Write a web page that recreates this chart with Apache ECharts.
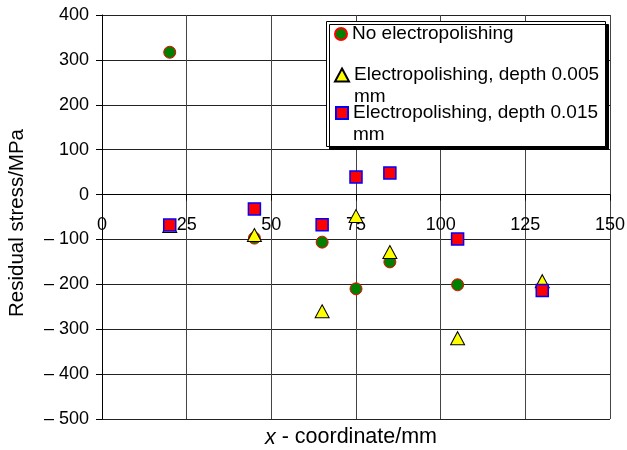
<!DOCTYPE html>
<html>
<head>
<meta charset="utf-8">
<script src="https://cdn.jsdelivr.net/npm/echarts@6/dist/echarts.min.js"></script>
<style>
  html, body { margin: 0; padding: 0; background: #fff; }
  #chart { width: 627px; height: 450px; }
</style>
</head>
<body>
<div id="chart"></div>
<script>
// Measurement positions along the specimen (mm)
const xCoords = [20, 45, 65, 75, 85, 105, 130];
// Residual stress (MPa) for each surface condition
const noPolish = [317, -97, -106, -210, -150, -201, -212];
const polish005 = [-70, -90, -260, -48, -128, -320, -193];
const polish015 = [-68, -32, -67, 39, 48, -99, -214];

const seriesNames = [
  'No electropolishing',
  'Electropolishing, depth 0.005 mm',
  'Electropolishing, depth 0.015 mm'
];

const FONT = '"Liberation Sans", Arial, sans-serif';

// Plot geometry and stress range, used to place the x axis on the zero line
const GRID_TOP = 15, GRID_BOTTOM = 31, CHART_H = 450;
const Y_MIN = -500, Y_MAX = 400;
const plotH = CHART_H - GRID_TOP - GRID_BOTTOM;
const zeroOffset = -plotH * (0 - Y_MIN) / (Y_MAX - Y_MIN);

function pairs(ys) {
  return xCoords.map((x, i) => [x, ys[i]]);
}

const chart = echarts.init(document.getElementById('chart'), null, { renderer: 'canvas' });

const legendText = {
  color: '#000',
  fontFamily: FONT,
  fontSize: 19,
  lineHeight: 22
};
// Wrapped entries get an empty leading line so the icon sits beside the first text line
const legendWrap = name => (name.indexOf(' mm') > -1 ? '\n' + name.replace(' mm', '\nmm') : name);

chart.setOption({
  animation: false,
  backgroundColor: '#fff',
  grid: { left: 102, right: 17, top: GRID_TOP, bottom: GRID_BOTTOM, containLabel: false, outerBoundsMode: 'none' },
  xAxis: {
    type: 'value',
    min: 0, max: 150, interval: 25,
    position: 'bottom',
    offset: zeroOffset,
    axisLine: { onZero: false, lineStyle: { color: '#000', width: 1 } },
    axisTick: { show: true, length: 6, lineStyle: { color: '#000' } },
    axisLabel: { color: '#000', fontFamily: FONT, fontSize: 18, margin: 21, showMinLabel: true, showMaxLabel: true },
    splitLine: { show: true, lineStyle: { color: '#444', width: 1 } },
    name: '{i|x} - coordinate/mm',
    nameLocation: 'middle',
    nameGap: 232,
    nameTextStyle: {
      color: '#000', fontFamily: FONT, fontSize: 21.5, padding: [0, 10, 0, 0],
      rich: { i: { fontStyle: 'italic', fontFamily: FONT, fontSize: 21.5, color: '#000' } }
    }
  },
  yAxis: {
    type: 'value',
    min: Y_MIN, max: Y_MAX, interval: 100,
    axisLine: { show: true, onZero: false, lineStyle: { color: '#000', width: 1 } },
    axisTick: { show: true, length: 6, lineStyle: { color: '#000' } },
    axisLabel: {
      color: '#000', fontFamily: FONT, fontSize: 18, margin: 13,
      formatter: v => (v < 0 ? '\u2013 ' + Math.abs(v) : String(v))
    },
    splitLine: { show: true, lineStyle: { color: '#222', width: 1 } },
    name: 'Residual stress/MPa',
    nameLocation: 'middle',
    nameGap: 74,
    nameTextStyle: { color: '#000', fontFamily: FONT, fontSize: 20.5, padding: [0, 12, 0, 0] }
  },
  graphic: [{
    type: 'rect',
    z: 3,
    shape: { x: 326.5, y: 21.5, width: 279, height: 125 },
    style: {
      fill: '#fff', stroke: '#000', lineWidth: 1,
      shadowColor: '#000', shadowBlur: 0, shadowOffsetX: 3, shadowOffsetY: 3
    }
  }],
  legend: [
    {
      data: [seriesNames[0]], left: 334, top: 23, padding: 0,
      itemWidth: 12, itemHeight: 12, z: 5,
      textStyle: legendText, formatter: legendWrap
    },
    {
      data: [seriesNames[1]], left: 334, top: 42, padding: 0,
      itemWidth: 14, itemHeight: 13, z: 5,
      textStyle: legendText, formatter: legendWrap
    },
    {
      data: [seriesNames[2]], left: 335, top: 80, padding: 0,
      itemWidth: 12, itemHeight: 12, z: 5,
      textStyle: legendText, formatter: legendWrap
    }
  ],
  series: [
    {
      name: seriesNames[0], type: 'scatter', symbol: 'circle', symbolSize: 12,
      itemStyle: { color: '#008000', borderColor: '#ff0000', borderWidth: 1, opacity: 1 },
      data: pairs(noPolish), z: 2
    },
    {
      name: seriesNames[1], type: 'scatter', symbol: 'triangle', symbolSize: [14, 13],
      itemStyle: { color: '#ffff00', borderColor: '#000', borderWidth: 1, opacity: 1 },
      data: pairs(polish005), z: 3
    },
    {
      name: seriesNames[2], type: 'scatter', symbol: 'rect', symbolSize: 12,
      itemStyle: { color: '#ff0000', borderColor: '#0000ff', borderWidth: 1.5, opacity: 1 },
      data: pairs(polish015), z: 4
    }
  ]
});
</script>
</body>
</html>
